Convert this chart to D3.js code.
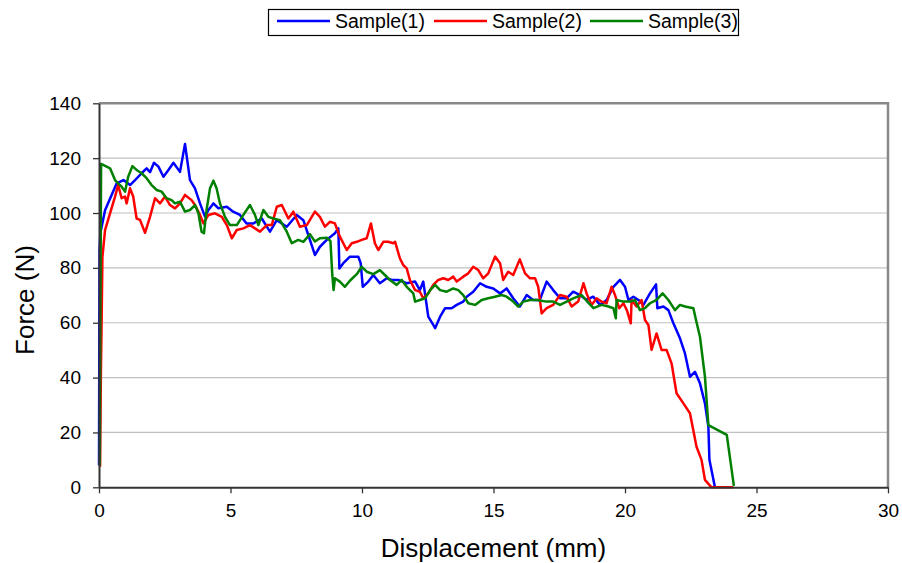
<!DOCTYPE html>
<html>
<head>
<meta charset="utf-8">
<script src="https://cdn.jsdelivr.net/npm/d3@7/dist/d3.min.js"></script>
<style>
  body { margin: 0; background: #fff; }
  svg text { font-family: "Liberation Sans", Arial, sans-serif; fill: #000; }
</style>
</head>
<body>
<script>
var width = 902
var height = 563
var margin = {top: 103.3, right: 14, bottom: 75.7, left: 99}

var seriesNames = ['Sample(1)', 'Sample(2)', 'Sample(3)']
var seriesColors = ['#0000ff', '#ff0000', '#008000']
var xTicks = [0, 5, 10, 15, 20, 25, 30]
var yTicks = [0, 20, 40, 60, 80, 100, 120, 140]

// [displacement mm, force N]
var sample1 = [[0,8],[0.02,86],[0.05,92.6],[0.23,101],[0.48,106.6],[0.67,110.8],[0.93,112],[1.18,110.2],[1.37,112],[1.62,114.5],[1.81,116.3],[1.94,114.9],[2.09,118.3],[2.26,116.9],[2.45,113.2],[2.64,115.7],[2.83,118.3],[3.08,115],[3.27,125.2],[3.46,112],[3.65,109],[3.84,103.5],[4.03,98.7],[4.16,101.1],[4.35,103.5],[4.54,101.7],[4.86,102.3],[5.1,100.5],[5.36,99.3],[5.61,96.2],[5.87,96.2],[6.19,98],[6.5,93.2],[6.76,97.4],[7.14,95],[7.52,99.3],[7.77,97.4],[8.02,90.2],[8.21,84.7],[8.4,87.7],[8.66,90.2],[8.97,92.6],[9.1,94.4],[9.14,79.8],[9.29,81.7],[9.54,84.1],[9.86,84.1],[9.95,81.7],[10.03,73.1],[10.24,75],[10.43,77.4],[10.68,74.4],[10.94,76.2],[11.13,75.6],[11.38,75.6],[11.7,74.4],[12.02,75],[12.2,71.9],[12.33,75],[12.43,68.3],[12.52,62.2],[12.71,59.2],[12.78,58],[12.97,62.2],[13.16,65.3],[13.41,65.3],[13.6,66.5],[13.85,67.7],[13.98,69.5],[14.23,71.3],[14.49,74.4],[14.74,73.1],[14.99,72.5],[15.25,70.7],[15.5,72.5],[15.75,68.9],[16.0,65.9],[16.26,70.1],[16.51,68.3],[16.76,68.3],[17.02,75],[17.27,71.9],[17.53,68.9],[17.78,68.9],[18.03,71.3],[18.29,70.1],[18.54,68.3],[18.79,69.5],[19.05,66.5],[19.3,68.3],[19.56,73.1],[19.81,75.6],[20.0,73.1],[20.13,68.3],[20.32,69.5],[20.51,68.3],[20.7,66.5],[20.95,70.7],[21.18,74],[21.23,65.3],[21.46,65.9],[21.65,64.6],[21.84,59.8],[22.09,54.3],[22.28,48.8],[22.47,40.3],[22.66,42.1],[22.85,37.9],[23.04,30.6],[23.17,22.1],[23.21,10],[23.42,0]]

var sample2 = [[0.04,7.5],[0.07,40],[0.1,61],[0.13,84],[0.23,93.8],[0.42,99.9],[0.61,106],[0.73,110.2],[0.86,105.4],[0.99,106],[1.05,103.5],[1.18,109],[1.3,106],[1.43,98],[1.56,97.5],[1.75,92.8],[1.94,98.6],[2.13,105.4],[2.32,103.5],[2.51,106],[2.7,102.9],[2.89,101.7],[3.08,103.5],[3.27,106.6],[3.52,104.7],[3.65,102.9],[3.84,99.3],[3.97,96.2],[4.16,99.3],[4.41,99.9],[4.67,98.6],[4.86,95.6],[5.05,90.8],[5.24,93.8],[5.49,94.4],[5.74,95.6],[5.93,94.4],[6.12,93.2],[6.38,95.6],[6.57,95.6],[6.76,102.3],[6.95,102.9],[7.2,98],[7.39,100.5],[7.64,95],[7.9,95.6],[8.21,100.5],[8.4,98.6],[8.59,95],[8.78,96.8],[8.97,96.2],[9.16,91.4],[9.42,86.5],[9.61,89],[9.8,89.5],[9.99,90.2],[10.18,90.8],[10.34,96.2],[10.49,89],[10.62,86.5],[10.81,89.5],[11.0,89.5],[11.19,89],[11.26,89.5],[11.44,83.5],[11.57,81],[11.7,79.8],[11.82,75.6],[12.02,71.9],[12.2,71.3],[12.33,68.9],[12.52,70.7],[12.71,73.8],[12.9,75.6],[13.09,76.2],[13.28,75.6],[13.47,76.8],[13.6,75],[13.85,76.8],[14.04,78],[14.23,80.4],[14.42,79.2],[14.61,76.2],[14.8,78],[15.06,84.1],[15.25,81.7],[15.37,75.6],[15.56,78.6],[15.75,77.4],[16.0,83.1],[16.2,78],[16.39,76.2],[16.58,76.2],[16.7,73.1],[16.83,63.4],[17.02,65.3],[17.27,66.5],[17.53,70.1],[17.78,69.5],[17.97,65.9],[18.22,67.7],[18.42,74.4],[18.54,70.7],[18.73,66.5],[18.92,68.9],[19.11,67.7],[19.3,67.1],[19.49,73.1],[19.62,70.1],[19.78,65.3],[19.94,67.1],[20.07,64.6],[20.22,59.8],[20.25,68.3],[20.44,65.9],[20.63,68.3],[20.76,61],[20.89,59.2],[21.01,50.1],[21.2,56.1],[21.39,50.1],[21.58,50.1],[21.77,45.2],[21.96,34.3],[22.22,30.6],[22.47,27],[22.72,14.8],[22.91,10],[23.04,2.7],[23.29,0],[24.12,0]]

var sample3 = [[0.03,8],[0.05,60],[0.08,117.9],[0.29,116.9],[0.42,116.3],[0.61,112],[0.73,110.8],[0.86,109.6],[0.99,107.8],[1.11,113.2],[1.27,117.1],[1.43,115.7],[1.62,114.5],[1.81,112.7],[2.0,110.2],[2.19,108.4],[2.38,107.8],[2.57,105.4],[2.76,104.7],[2.89,103.5],[3.08,104.1],[3.27,100.5],[3.46,101.1],[3.65,102.9],[3.78,99.9],[3.9,93.2],[3.99,92.6],[4.09,101.1],[4.22,109],[4.35,111.8],[4.47,109],[4.6,103.5],[4.79,98.6],[4.98,95.6],[5.24,95.6],[5.49,99.3],[5.74,102.9],[5.93,99.3],[6.06,95.6],[6.25,101.1],[6.44,98.6],[6.63,98],[6.88,97.4],[7.14,93.2],[7.33,89],[7.58,90.2],[7.77,89.5],[8.02,92.3],[8.21,89.6],[8.4,90.8],[8.66,91],[8.8,89.8],[8.87,77.5],[8.92,71.9],[8.97,76.2],[9.16,75],[9.35,73.1],[9.54,75.3],[9.8,77.7],[9.99,80.4],[10.18,78.6],[10.43,77.7],[10.68,79.2],[10.87,77.4],[11.06,75.6],[11.32,73.8],[11.51,75.6],[11.7,73.1],[11.95,70.7],[12.02,67.7],[12.2,68.3],[12.4,68.9],[12.59,71.9],[12.78,73.8],[12.97,71.9],[13.22,71.3],[13.47,72.5],[13.66,71.9],[13.85,70.1],[14.04,67.1],[14.3,66.5],[14.55,68.3],[14.8,68.9],[15.06,69.5],[15.31,70.1],[15.5,69.5],[15.75,67.7],[15.94,65.9],[16.13,67.7],[16.39,68.3],[16.64,68.3],[17.02,67.7],[17.27,67.7],[17.53,66.5],[17.78,67.7],[18.03,68.9],[18.35,70.1],[18.54,68],[18.8,65.3],[19.11,66.5],[19.37,65.9],[19.56,65.3],[19.65,61.6],[19.68,68.3],[19.94,67.7],[20.19,67.7],[20.38,68.3],[20.57,64.6],[20.76,65.3],[20.95,67.1],[21.2,68.3],[21.43,70.7],[21.65,68.3],[21.9,64.6],[22.09,66.5],[22.28,65.9],[22.6,65.3],[22.7,61],[22.85,54.9],[23.04,40.3],[23.17,22.7],[23.87,19.1],[24.14,0.5]]

var allSeries = [sample1, sample2, sample3]

var innerW = width - margin.left - margin.right
var innerH = height - margin.top - margin.bottom

var x = d3.scaleLinear().domain([0, 30]).range([0, innerW])
var y = d3.scaleLinear().domain([0, 140]).range([innerH, 0])

var svg = d3.select('body').append('svg')
    .attr('width', width)
    .attr('height', height)

var g = svg.append('g')
    .attr('transform', 'translate(' + margin.left + ',' + margin.top + ')')

// gridlines
g.selectAll('.grid')
    .data(yTicks.filter(function (d) { return d > 0 && d < 140 }))
  .enter().append('line')
    .attr('x1', 0)
    .attr('x2', innerW)
    .attr('y1', function (d) { return y(d) })
    .attr('y2', function (d) { return y(d) })
    .style('stroke', '#c0c0c0')
    .style('stroke-width', 1.2)

// top and right frame
g.append('path')
    .attr('d', 'M0,0H' + innerW + 'V' + innerH)
    .style('fill', 'none')
    .style('stroke', '#888')
    .style('stroke-width', 2.5)

var line = d3.line()
    .x(function (d) { return x(d[0]) })
    .y(function (d) { return y(d[1]) })

g.selectAll('.series')
    .data(allSeries)
  .enter().append('path')
    .attr('d', line)
    .style('fill', 'none')
    .style('stroke', function (d, i) { return seriesColors[i] })
    .style('stroke-width', 2.5)
    .style('stroke-linejoin', 'round')

var xAxis = g.append('g')
    .attr('transform', 'translate(0,' + innerH + ')')
    .call(d3.axisBottom(x).tickValues(xTicks).tickSize(6).tickPadding(10).tickSizeOuter(0))
var yAxis = g.append('g')
    .call(d3.axisLeft(y).tickValues(yTicks).tickSize(6).tickPadding(12).tickSizeOuter(0))

;[xAxis, yAxis].forEach(function (a) {
  a.select('.domain').style('stroke', '#333').style('stroke-width', 2)
  a.selectAll('.tick line').style('stroke', '#333').style('stroke-width', 1.3)
  a.selectAll('.tick text').style('font-size', '19px').style('font-family', '"Liberation Sans", Arial, sans-serif')
})

svg.append('text')
    .attr('x', margin.left + innerW / 2)
    .attr('y', 557)
    .attr('text-anchor', 'middle')
    .style('font-size', '26px')
    .text('Displacement (mm)')

svg.append('text')
    .attr('transform', 'translate(34,300) rotate(-90)')
    .attr('text-anchor', 'middle')
    .style('font-size', '26px')
    .text('Force (N)')

// legend
var legend = svg.append('g')
legend.append('rect')
    .attr('x', 268.5)
    .attr('y', 9.5)
    .attr('width', 470)
    .attr('height', 26)
    .style('fill', '#fff')
    .style('stroke', '#000')
    .style('stroke-width', 1.2)

var legendX = [277, 434, 590]
var item = legend.selectAll('.item')
    .data(seriesNames)
  .enter().append('g')
    .attr('transform', function (d, i) { return 'translate(' + legendX[i] + ',21)' })
item.append('line')
    .attr('x1', 0)
    .attr('x2', 53)
    .style('stroke', function (d, i) { return seriesColors[i] })
    .style('stroke-width', 2.5)
item.append('text')
    .attr('x', 58)
    .attr('y', 7)
    .style('font-size', '19.5px')
    .text(function (d) { return d })
</script>
</body>
</html>
